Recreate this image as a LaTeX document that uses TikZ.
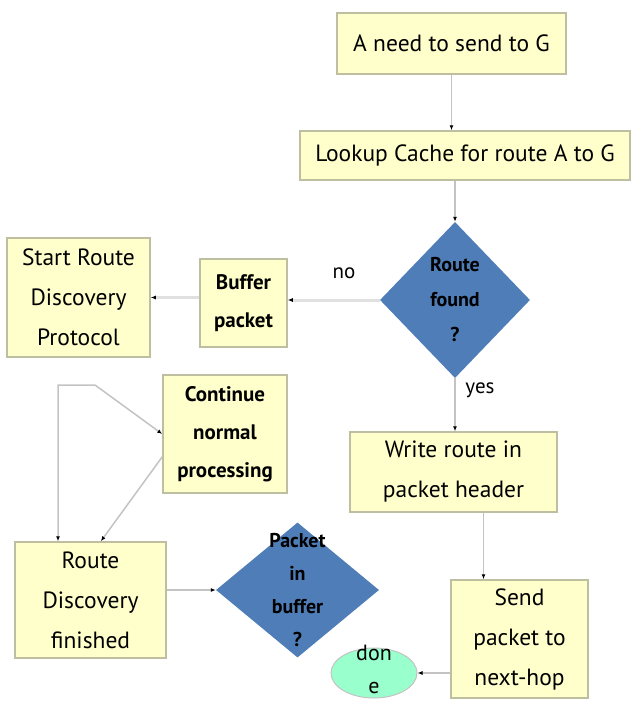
\documentclass[tikz,border=0pt]{standalone}
\usepackage{fontspec}
\setmainfont{PT Sans}
\definecolor{boxfill}{RGB}{255,255,204}
\definecolor{boxline}{RGB}{190,190,160}
\definecolor{diafill}{RGB}{79,125,184}
\definecolor{donefill}{RGB}{153,255,204}
\definecolor{linegray}{RGB}{195,195,195}
\usetikzlibrary{arrows.meta,positioning,shapes.geometric}

\begin{document}
\begin{tikzpicture}[x=1pt,y=-1pt,
    >={Latex[length=5pt,width=4pt,color=black]},
    box/.style={draw=boxline,fill=boxfill,line width=1.5pt,align=center,inner sep=0pt,
      font=\fontsize{23.5}{40}\selectfont},
    boldbox/.style={box,font=\bfseries\fontsize{21}{38}\selectfont},
    decision/.style={diamond,fill=diafill,inner sep=0pt},
    dtext/.style={align=center,inner sep=0pt,font=\bfseries\fontsize{20}{35}\selectfont},
    conn/.style={draw=linegray,line width=1.5pt,->},
    lbl/.style={inner sep=0pt,font=\fontsize{21}{22}\selectfont}]
  \useasboundingbox (0,0) rectangle (630,704);

  % top of the chart
  \node[box,minimum width=229pt,minimum height=61pt] (need) at (451.5,43.5) {A need to send to G};
  \node[box,minimum width=330pt,minimum height=49pt] (lookup) at (465,155.5) {Lookup Cache for route A to G};
  \node[decision,minimum width=150pt,minimum height=156pt] (found) at (455,300) {};
  \node[dtext] (foundtxt) at (found) {Route\\found\\?};

  % no branch
  \node[boldbox,minimum width=87pt,minimum height=88pt] (buffer) at (243.5,303) {Buffer\\packet};
  \node[box,minimum width=143pt,minimum height=119pt] (start) at (78.5,297.5) {Start Route\\Discovery\\Protocol};
  \node[lbl] (nolbl) at (344,273) {no};

  % yes branch
  \node[lbl] (yeslbl) at (480,390) {yes};
  \node[box,minimum width=207pt,minimum height=80pt] (write) at (453.5,472) {Write route in\\packet header};
  \node[box,minimum width=137pt,minimum height=118pt] (send) at (519.5,639) {Send\\packet to\\next-hop};
  \node[ellipse,draw=linegray,fill=donefill,line width=1pt,minimum width=86pt,minimum height=50pt,inner sep=0pt] (done) at (374,673) {};
  \node[align=center,inner sep=0pt,font=\fontsize{22}{33}\selectfont] (donetxt) at (374,669) {don\\e};

  % discovery side
  \node[boldbox,minimum width=124pt,minimum height=118pt] (cont) at (225,434) {Continue\\normal\\processing};
  \node[box,minimum width=151pt,minimum height=116pt] (rdf) at (90.5,600) {Route\\Discovery\\finished};
  \node[decision,minimum width=163pt,minimum height=135pt] (pib) at (297.5,590) {};
  \node[dtext,font=\bfseries\fontsize{20}{33}\selectfont] (pibtxt) at (pib) {Packet\\in\\buffer\\?};

  \coordinate (loopa) at (95,385);
  \coordinate (loopb) at (58,385);

  \draw[conn] (need.south) -- (need.south |- lookup.north);
  \draw[conn] (lookup.south -| found.north) -- (found.north);
  \draw[conn,line width=3pt,draw=black!12] (found.west) -- (buffer.east |- found.west);
  \draw[conn,line width=3pt,draw=black!12] (buffer.west |- start.east) -- (start.east);
  \draw[conn] (found.south) -- (found.south |- write.north);
  \draw[conn] ([xshift=30pt]write.south) -- ([xshift=30pt]write.south |- send.north);
  \draw[conn] (send.west |- done.east) -- (done.east);
  \draw[conn] (rdf.east |- pib.west) -- (pib.west);
  \draw[conn,<->] (cont.west) -- (loopa) -- (loopb) -- (loopb |- rdf.north);
  \draw[conn] (cont.200) -- (rdf.80);
\end{tikzpicture}
\end{document}
